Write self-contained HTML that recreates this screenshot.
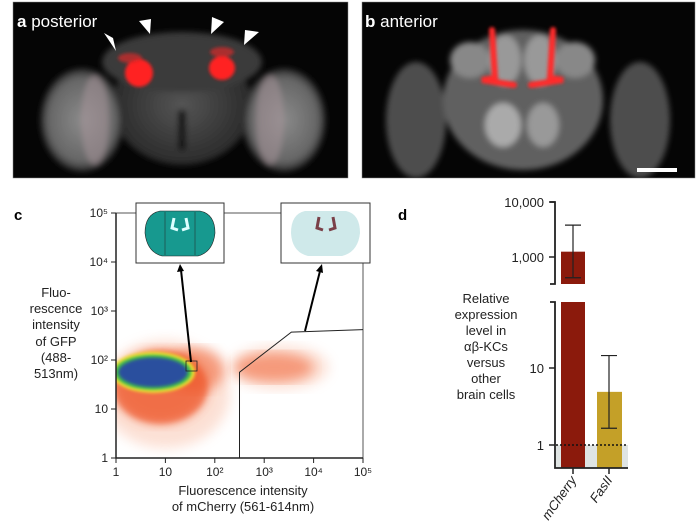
<!DOCTYPE html>
<html><head><meta charset="utf-8"><style>
body{margin:0;background:#fff;width:696px;height:522px;overflow:hidden;font-family:"Liberation Sans",sans-serif}
svg text{font-family:"Liberation Sans","DejaVu Sans",sans-serif}
</style></head><body>
<svg width="696" height="522" viewBox="0 0 696 522" xmlns="http://www.w3.org/2000/svg">
<defs>
<filter id="b3"><feGaussianBlur stdDeviation="3"/></filter>
<filter id="b6"><feGaussianBlur stdDeviation="6"/></filter>
<filter id="b2"><feGaussianBlur stdDeviation="1.5"/></filter>
<radialGradient id="gOL" cx="50%" cy="50%" r="50%"><stop offset="0" stop-color="#8a8a8a"/><stop offset="0.8" stop-color="#666"/><stop offset="1" stop-color="#222"/></radialGradient>
<radialGradient id="gC" cx="50%" cy="50%" r="50%"><stop offset="0" stop-color="#555"/><stop offset="1" stop-color="#2a2a2a"/></radialGradient>
<clipPath id="clipPlot"><rect x="116" y="213" width="247" height="245"/></clipPath>
<clipPath id="clipA"><rect x="13" y="2" width="335" height="176"/></clipPath>
<clipPath id="clipB"><rect x="362" y="2" width="333" height="176"/></clipPath>
</defs>

<!-- Panel a -->
<g>
<rect x="13" y="2" width="335" height="176" fill="#050505" stroke="#888" stroke-width="0.5"/>
<g clip-path="url(#clipA)">
<g filter="url(#b3)">
<ellipse cx="182" cy="105" rx="70" ry="60" fill="url(#gC)"/>
<ellipse cx="182" cy="62" rx="80" ry="30" fill="#3a3a3a"/>
<ellipse cx="82" cy="120" rx="42" ry="52" fill="url(#gOL)"/>
<ellipse cx="284" cy="120" rx="42" ry="52" fill="url(#gOL)"/>
<ellipse cx="95" cy="120" rx="14" ry="45" fill="#a8969b" opacity="0.55"/>
<ellipse cx="270" cy="120" rx="14" ry="45" fill="#a8969b" opacity="0.55"/>
<rect x="178" y="110" width="8" height="40" fill="#151515"/>
</g>
<g filter="url(#b2)">
<ellipse cx="139" cy="73" rx="14" ry="14" fill="#ff2020"/>
<ellipse cx="222" cy="68" rx="13" ry="12" fill="#ff2020"/>
<ellipse cx="130" cy="58" rx="12" ry="5" fill="#d82828" opacity="0.7"/>
<ellipse cx="222" cy="52" rx="12" ry="5" fill="#d82828" opacity="0.7"/>
</g>
</g>
<polygon points="104,33 113,38 116,51" fill="#fff"/>
<polygon points="139,21 151,19 150,34" fill="#fff"/>
<polygon points="224,22 212,17 211,34" fill="#fff"/>
<polygon points="259,32 245,30 244,45" fill="#fff"/>
<text x="17" y="27" font-size="17" fill="#fff"><tspan font-weight="bold">a</tspan> posterior</text>
</g>

<!-- Panel b -->
<g>
<rect x="362" y="2" width="333" height="176" fill="#050505" stroke="#888" stroke-width="0.5"/>
<g clip-path="url(#clipB)">
<g filter="url(#b3)">
<ellipse cx="416" cy="120" rx="30" ry="58" fill="#4e4e4e"/>
<ellipse cx="640" cy="120" rx="30" ry="58" fill="#4e4e4e"/>
<ellipse cx="523" cy="100" rx="80" ry="70" fill="#606060"/>
<ellipse cx="503" cy="125" rx="18" ry="22" fill="#aaa"/>
<ellipse cx="543" cy="125" rx="16" ry="22" fill="#999"/>
<ellipse cx="505" cy="60" rx="16" ry="25" fill="#999"/>
<ellipse cx="540" cy="60" rx="16" ry="25" fill="#999"/>
<ellipse cx="470" cy="60" rx="20" ry="18" fill="#888"/>
<ellipse cx="575" cy="60" rx="20" ry="18" fill="#888"/>
</g>
<g stroke="#ff2a2a" stroke-width="6" fill="none" stroke-linecap="round" filter="url(#b2)">
<path d="M492,30 L495,78 L482,80 L514,85"/>
<path d="M553,30 L550,78 L563,80 L531,85"/>
</g>
</g>
<rect x="637" y="168" width="40" height="4" fill="#fff"/>
<text x="365" y="27" font-size="17" fill="#fff"><tspan font-weight="bold">b</tspan> anterior</text>
</g>

<!-- Panel c -->
<g>
<text x="14" y="220" font-size="15" font-weight="bold">c</text>
<g id="scatter" clip-path="url(#clipPlot)"></g>
<g id="cAxes"></g>
<g font-size="13" text-anchor="middle" fill="#222">
<text x="56" y="297">Fluo-</text><text x="56" y="313">rescence</text><text x="56" y="329">intensity</text><text x="56" y="346">of GFP</text><text x="56" y="362">(488-</text><text x="56" y="378">513nm)</text>
</g>
<g font-size="13" text-anchor="middle" fill="#222">
<text x="243" y="495">Fluorescence intensity</text><text x="243" y="511">of mCherry (561-614nm)</text>
</g>
<g>
<rect x="136" y="203" width="88" height="60" fill="#fff" stroke="#333"/>
<path d="M160,211 L200,211 Q215,214 215,233 Q213,252 198,256 L162,256 Q147,252 145,233 Q145,214 160,211Z" fill="#17998f" stroke="#222" stroke-width="0.6"/>
<path d="M165,212 L165,255 M195,212 L195,255" stroke="#222" stroke-width="0.5"/>
<path d="M174,218 L172,228 L178,230 M186,218 L188,228 L182,230" stroke="#dff" stroke-width="3" fill="none"/>
</g>
<g>
<rect x="281" y="203" width="89" height="60" fill="#fff" stroke="#333"/>
<path d="M305,211 L346,211 Q360,214 360,233 Q358,252 342,256 L308,256 Q292,252 291,233 Q291,214 305,211Z" fill="#cfe9ea"/>
<path d="M319,217 L317,228 L323,230 M333,217 L335,228 L329,230" stroke="#7a4048" stroke-width="3" fill="none"/>
</g>
<path d="M191,362 L181,270" stroke="#000" stroke-width="2"/>
<polygon points="180,264 177,272 184,271" fill="#000"/>
<path d="M305,331 L320,271" stroke="#000" stroke-width="2"/>
<polygon points="322,264 316,271 323,273" fill="#000"/>
</g>

<!-- Panel d -->
<g>
<text x="398" y="220" font-size="15" font-weight="bold">d</text>
<rect x="556" y="445" width="72" height="23" fill="#dfe4e3"/>
<g id="dChart"></g>
<g font-size="13" text-anchor="middle" fill="#222">
<text x="486" y="303">Relative</text><text x="486" y="319">expression</text><text x="486" y="335">level in</text><text x="486" y="351">αβ-KCs</text><text x="486" y="367">versus</text><text x="486" y="383">other</text><text x="486" y="399">brain cells</text>
</g>
</g>

<script>
const NS="http://www.w3.org/2000/svg";
function mk(p,tag,a){const e=document.createElementNS(NS,tag);for(const k in a)e.setAttribute(k,a[k]);p.appendChild(e);return e;}

// ---- Panel c ----
const cTickExp=[0,1,2,3,4,5];
const cTickLabels=["1","10","10²","10³","10⁴","10⁵"];
// density blobs: [log10 mCherry, log10 GFP, rx (decades), ry (decades)]
const cloudFaint=[[1.0,1.3,1.3,1.1],[3.3,1.85,1.0,0.45]];
const cloudOuter=[[0.9,1.45,0.95,0.75],[1.6,1.8,0.6,0.45],[3.2,1.85,0.8,0.3]];
const cloudYellow=[[0.75,1.75,0.85,0.42]];
const cloudGreen=[[0.75,1.75,0.78,0.36]];
const cloudBlue=[[0.75,1.75,0.7,0.3]];
const gateX=[2.5,2.5,3.55,5];
const gateY=[0,1.75,2.57,2.62];
const cx=v=>116+v*49.4, cy=v=>458-v*49;
const ax=document.getElementById('cAxes');
let l=mk(ax,'path',{d:`M116,213 L363,213 L363,458`,stroke:'#555',fill:'none','stroke-width':1});

l=mk(ax,'path',{d:`M116,213 L116,458 L363,458`,stroke:'#222',fill:'none','stroke-width':1.5});

cTickExp.forEach((e,i)=>{
 mk(ax,'line',{x1:111,x2:116,y1:cy(e),y2:cy(e),stroke:'#222'});
 const t=mk(ax,'text',{x:108,y:cy(e)+4,'font-size':12,'text-anchor':'end',fill:'#222'});t.textContent=cTickLabels[i];
 
 mk(ax,'line',{x1:cx(e),x2:cx(e),y1:458,y2:463,stroke:'#222'});
 const u=mk(ax,'text',{x:cx(e),y:476,'font-size':12,'text-anchor':'middle',fill:'#222'});u.textContent=cTickLabels[i];
 
});
const sc=document.getElementById('scatter');
function blobs(arr,col,op,f){arr.forEach(b=>{const e=mk(sc,'ellipse',{cx:cx(b[0]),cy:cy(b[1]),rx:b[2]*49.4,ry:b[3]*49,fill:col,opacity:op,filter:f});
 });}
blobs(cloudFaint,'#f7a888',0.35,'url(#b6)');
blobs(cloudOuter,'#f06030',0.55,'url(#b6)');
blobs([cloudOuter[0]],'#ee5226',0.6,'url(#b3)');
blobs(cloudYellow,'#f2e030',1,'url(#b2)');
blobs(cloudGreen,'#3fbf4a',1,'url(#b2)');
blobs(cloudBlue,'#2a4f9e',1,'url(#b2)');
let gp='';gateX.forEach((x,i)=>gp+=(i?'L':'M')+cx(x)+','+cy(gateY[i]));
l=mk(ax,'path',{d:gp,stroke:'#222',fill:'none','stroke-width':1});

l=mk(ax,'rect',{x:186,y:361,width:11,height:10,fill:'none',stroke:'#222','stroke-width':0.8});


// ---- Panel d ----
const dCats=["mCherry","FasII"];
const dValues=[1250,4.9];
const dErrLow=[420,1.65];
const dErrHigh=[3800,14.5];
const dColors=["#8b1a0c","#c4a028"];
const upTicks=[10000,1000], upLabels=["10,000","1,000"];
const loTicks=[10,1], loLabels=["10","1"];
const yUp=v=>257-(Math.log10(v)-3)*55;
const yLo=v=>445-Math.log10(v)*77;
const yD=v=>{const lo=yLo(v);return lo<302?yUp(v):lo;};
const bx=[573,609];
const d=document.getElementById('dChart');
dCats.forEach((c,i)=>{
 const top=yD(dValues[i]);
 if(yLo(dValues[i])<302){
  const r1=mk(d,'rect',{x:bx[i]-12,y:top,width:24,height:284-top,fill:dColors[i]});
  
  const r2=mk(d,'rect',{x:bx[i]-12,y:302,width:24,height:166,fill:dColors[i]});
  
 } else {
  const r=mk(d,'rect',{x:bx[i]-12,y:top,width:25,height:468-top,fill:dColors[i]});
  
 }
 const yl=yD(dErrLow[i]), yh=yD(dErrHigh[i]);
 const eb=mk(d,'path',{d:`M${bx[i]},${yl}L${bx[i]},${yh}M${bx[i]-8},${yl}L${bx[i]+8},${yl}M${bx[i]-8},${yh}L${bx[i]+8},${yh}`,stroke:'#222','stroke-width':1.2,fill:'none'});
 
 mk(d,'line',{x1:bx[i],x2:bx[i],y1:468,y2:474,stroke:'#222','stroke-width':1.5});
 const t=mk(d,'text',{x:bx[i]+4,y:480,'font-size':13,'text-anchor':'end',fill:'#222','font-style':'italic',transform:`rotate(-55 ${bx[i]+4} 480)`});
 t.textContent=c;
});
l=mk(d,'line',{x1:556,x2:628,y1:445,y2:445,stroke:'#111','stroke-width':1.5,'stroke-dasharray':'2,2'});

l=mk(d,'path',{d:'M550,202 L555,202 L555,284 L550,284 M550,302 L555,302 L555,468 L628,468',stroke:'#222','stroke-width':1.8,fill:'none'});

upTicks.forEach((v,i)=>{mk(d,'line',{x1:549,x2:555,y1:yUp(v),y2:yUp(v),stroke:'#222','stroke-width':1.5});
 const t=mk(d,'text',{x:544,y:yUp(v)+5,'font-size':13,'text-anchor':'end',fill:'#222'});t.textContent=upLabels[i];
 });
loTicks.forEach((v,i)=>{mk(d,'line',{x1:549,x2:555,y1:yLo(v),y2:yLo(v),stroke:'#222','stroke-width':1.5});
 const t=mk(d,'text',{x:544,y:yLo(v)+5,'font-size':13,'text-anchor':'end',fill:'#222'});t.textContent=loLabels[i];
 });
</script>
</svg>
</body></html>
